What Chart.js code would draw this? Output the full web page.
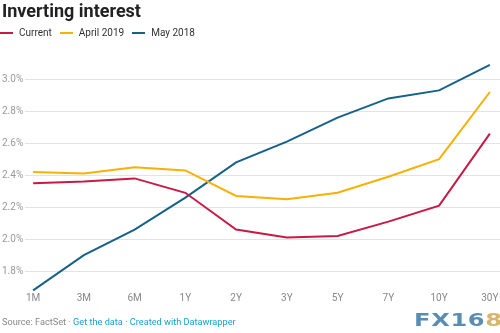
<!DOCTYPE html>
<html>
<head>
<meta charset="utf-8">
<script src="https://cdn.jsdelivr.net/npm/chart.js@4/dist/chart.umd.min.js"></script>
<style>
  html, body { margin: 0; padding: 0; background: #fff; }
  body { width: 500px; height: 333px; position: relative; overflow: hidden; font-family: Roboto, "Noto Sans", sans-serif; }
  #chart { position: absolute; left: 0; top: 0; }
  .title { position: absolute; left: 2px; top: 0px; font-size: 18px; font-weight: bold; color: #222; }
  .legend { position: absolute; left: 0; top: 27px; display: flex; align-items: center; font-size: 10px; color: #333; }
  .legend .item { display: flex; align-items: center; margin-right: 8px; }
  .legend .swatch { width: 13px; height: 2px; margin-right: 6px; }
  .footer { position: absolute; left: 2px; top: 316px; font-size: 9.2px; color: #888; }
  .footer .link { color: #1ba0cf; }
  .mark { position: absolute; left: 414px; top: 309px; font-family: "DejaVu Sans", sans-serif; font-weight: bold; font-size: 18px;
          color: #5b8db3; transform: scaleX(1.34); transform-origin: left top; letter-spacing: 0.5px; }
  .mark span { color: #d8b56e; }
</style>
</head>
<body>
<canvas id="chart" width="500" height="333"></canvas>
<div class="title">Inverting interest</div>
<div class="legend" id="legend"></div>
<div class="footer">Source: FactSet · <span class="link">Get the data</span> <span class="link">· Created with Datawrapper</span></div>
<div class="mark">FX16<span>8</span></div>
<script>
var maturities = ["1M", "3M", "6M", "1Y", "2Y", "3Y", "5Y", "7Y", "10Y", "30Y"];
var current   = [2.35, 2.36, 2.38, 2.29, 2.06, 2.01, 2.02, 2.11, 2.21, 2.66];
var april2019 = [2.42, 2.41, 2.45, 2.43, 2.27, 2.25, 2.29, 2.39, 2.50, 2.92];
var may2018   = [1.68, 1.90, 2.06, 2.26, 2.48, 2.61, 2.76, 2.88, 2.93, 3.09];
var yTicks    = [1.8, 2.0, 2.2, 2.4, 2.6, 2.8, 3.0];

var series = [
    { label: "Current",    data: current,   color: "#c71a45" },
    { label: "April 2019", data: april2019, color: "#f8b100" },
    { label: "May 2018",   data: may2018,   color: "#15618a" }
];

// legend
var legend = document.getElementById("legend");
series.forEach(function(s) {
    var item = document.createElement("div");
    item.className = "item";
    item.innerHTML = '<div class="swatch" style="background:' + s.color + '"></div>' + s.label;
    legend.appendChild(item);
});

var ctx = document.getElementById("chart").getContext("2d");
new Chart(ctx, {
    type: "line",
    data: {
        datasets: series.map(function(s) {
            return {
                label: s.label,
                data: s.data.map(function(v, i) { return { x: i, y: v }; }),
                borderColor: s.color,
                backgroundColor: s.color,
                borderWidth: 2,
                pointRadius: 0,
                pointHoverRadius: 0,
                tension: 0,
                fill: false
            };
        })
    },
    options: {
        responsive: false,
        animation: false,
        layout: { padding: { left: 2, top: 60, right: 0, bottom: 0 } },
        plugins: {
            legend: { display: false },
            tooltip: { enabled: false }
        },
        scales: {
            x: {
                type: "linear",
                min: -0.16,
                max: 9.2,
                grid: { display: false, drawTicks: false },
                border: { display: false },
                afterBuildTicks: function(scale) {
                    scale.ticks = maturities.map(function(m, i) { return { value: i }; });
                },
                afterFit: function(scale) { scale.height = 41; },
                ticks: {
                    padding: 0,
                    color: "#888",
                    font: { family: "Roboto", size: 10 },
                    maxRotation: 0,
                    autoSkip: false,
                    callback: function(value) { return maturities[value]; }
                }
            },
            y: {
                min: 1.67,
                max: 3.12,
                grid: { color: "#e3e3e3", lineWidth: 1, drawTicks: false },
                border: { display: false },
                afterBuildTicks: function(scale) {
                    scale.ticks = yTicks.map(function(v) { return { value: v }; });
                },
                afterFit: function(scale) { scale.width = 23; },
                ticks: {
                    padding: 0,
                    crossAlign: "far",
                    color: "#999",
                    font: { family: "Roboto", size: 10 },
                    callback: function(value) { return value.toFixed(1) + "%"; }
                }
            }
        }
    }
});
</script>
</body>
</html>
